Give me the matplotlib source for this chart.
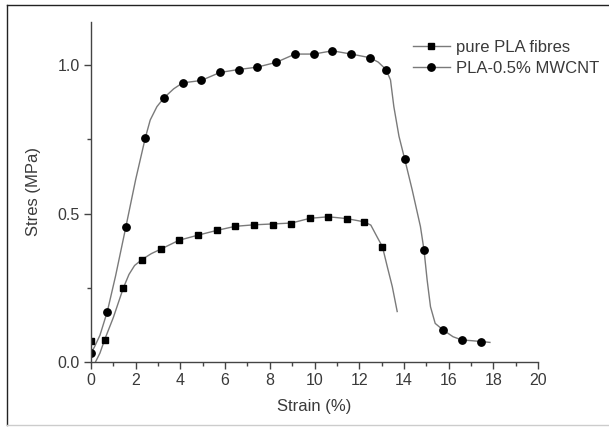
import numpy as np
import matplotlib.pyplot as plt
from matplotlib.lines import Line2D

plt.rcParams['font.family'] = ['Liberation Sans', 'DejaVu Sans']

# pure PLA fibres: curve points and marker points
pla_x = [0.2, 0.4, 0.61, 1.0, 1.45, 1.7, 1.95, 2.28, 2.7, 3.12, 3.94, 4.78, 5.62,
         6.46, 7.3, 8.15, 8.97, 9.8, 10.62, 11.44, 12.22, 12.52, 12.81, 13.04, 13.26,
         13.48, 13.7]
pla_y = [0.0, 0.03, 0.075, 0.15, 0.25, 0.295, 0.325, 0.345, 0.365, 0.38, 0.41, 0.427, 0.443,
         0.457, 0.462, 0.465, 0.468, 0.484, 0.489, 0.483, 0.472, 0.461, 0.42, 0.388, 0.32,
         0.254, 0.17]
pla_mx = [0.0, 0.61, 1.45, 2.28, 3.12, 3.94, 4.78, 5.62, 6.46, 7.3, 8.15, 8.97,
          9.8, 10.62, 11.44, 12.22, 13.04]
pla_my = [0.07, 0.075, 0.25, 0.345, 0.38, 0.41, 0.427, 0.443, 0.457, 0.462, 0.462, 0.466,
          0.484, 0.489, 0.483, 0.472, 0.388]

# PLA-0.5% MWCNT
cnt_x = [0.0, 0.15, 0.4, 0.73, 1.1, 1.56, 2.0, 2.43, 2.65, 2.95, 3.27, 3.7, 4.1, 4.93,
         5.77, 6.6, 7.44, 8.28, 9.13, 9.97, 10.8, 11.64, 12.47, 12.85, 13.2, 13.4, 13.55,
         13.78, 14.04, 14.37, 14.74, 14.9, 15.04, 15.19, 15.4, 15.75, 16.2, 16.6, 17.0,
         17.45, 17.85]
cnt_y = [0.03, 0.05, 0.09, 0.17, 0.29, 0.455, 0.615, 0.755, 0.815, 0.86, 0.89, 0.92, 0.94,
         0.948, 0.975, 0.985, 0.993, 1.009, 1.037, 1.037, 1.048, 1.037, 1.025, 1.01, 0.985,
         0.95, 0.86, 0.76, 0.682, 0.58, 0.456, 0.377, 0.276, 0.186, 0.13, 0.108, 0.085,
         0.074, 0.072, 0.069, 0.066]
cnt_mx = [0.0, 0.73, 1.56, 2.43, 3.27, 4.1, 4.93, 5.77, 6.6, 7.44, 8.28, 9.13, 9.97,
          10.8, 11.64, 12.47, 13.2, 14.04, 14.9, 15.75, 16.6, 17.45]
cnt_my = [0.03, 0.17, 0.455, 0.755, 0.89, 0.94, 0.948, 0.975, 0.985, 0.993, 1.009, 1.037,
          1.037, 1.048, 1.037, 1.025, 0.985, 0.682, 0.377, 0.108, 0.074, 0.069]

line_col = '#7a7a7a'
txt_col = '#3a3a3a'

fig = plt.figure(figsize=(6.09, 4.33), dpi=100)
ax = fig.add_axes([91/609, 71/433, 447/609, 340/433])

ax.plot(pla_x, pla_y, color=line_col, lw=1.0)
ax.plot(cnt_x, cnt_y, color=line_col, lw=1.0)
ax.plot(pla_mx, pla_my, 's', color='black', ms=4.6, ls='none')
ax.plot(cnt_mx, cnt_my, 'o', color='black', ms=5.3, ls='none')

ax.set_xlim(0, 20)
ax.set_ylim(0, 1.145)
ax.set_xticks(np.arange(0, 21, 2))
ax.set_xticks(np.arange(1, 20, 2), minor=True)
ax.set_yticks([0.0, 0.5, 1.0])
ax.set_yticks([0.25, 0.75], minor=True)
ax.set_yticklabels(['0.0', '0.5', '1.0'])
for s in ['top', 'right']:
    ax.spines[s].set_visible(False)
for s in ['left', 'bottom']:
    ax.spines[s].set_color('#444444')
    ax.spines[s].set_linewidth(1.0)
ax.tick_params(which='major', direction='out', length=5, width=1, color='#444444',
               labelsize=11.5, labelcolor=txt_col, pad=3)
ax.tick_params(which='minor', direction='out', length=3, width=1, color='#444444')

ax.set_xlabel('Strain (%)', fontsize=12, color=txt_col, labelpad=8)
ax.set_ylabel('Stres (MPa)', fontsize=12, color=txt_col, labelpad=12)

handles = [Line2D([], [], color=line_col, lw=1.0, marker='s', mfc='black', mec='black', ms=4.6),
           Line2D([], [], color=line_col, lw=1.0, marker='o', mfc='black', mec='black', ms=5.3)]
fig.legend(handles, ['pure PLA fibres', 'PLA-0.5% MWCNT'], loc='upper left',
           bbox_to_anchor=(413/609, 1 - 40/433), frameon=False, fontsize=12,
           handlelength=2.2, handletextpad=0.4, labelspacing=0.35, borderpad=0,
           borderaxespad=0, labelcolor=txt_col)

# outer frame of the figure
fig.add_artist(Line2D([7/609, 7/609], [1 - 5/433, 1 - 425/433], transform=fig.transFigure,
                      color='#222222', lw=1))
fig.add_artist(Line2D([7/609, 1], [1 - 5/433, 1 - 5/433], transform=fig.transFigure,
                      color='#222222', lw=1))
fig.add_artist(Line2D([7/609, 1], [1 - 425/433, 1 - 425/433], transform=fig.transFigure,
                      color='#cccccc', lw=1))

fig.savefig('out.png', dpi=100)
